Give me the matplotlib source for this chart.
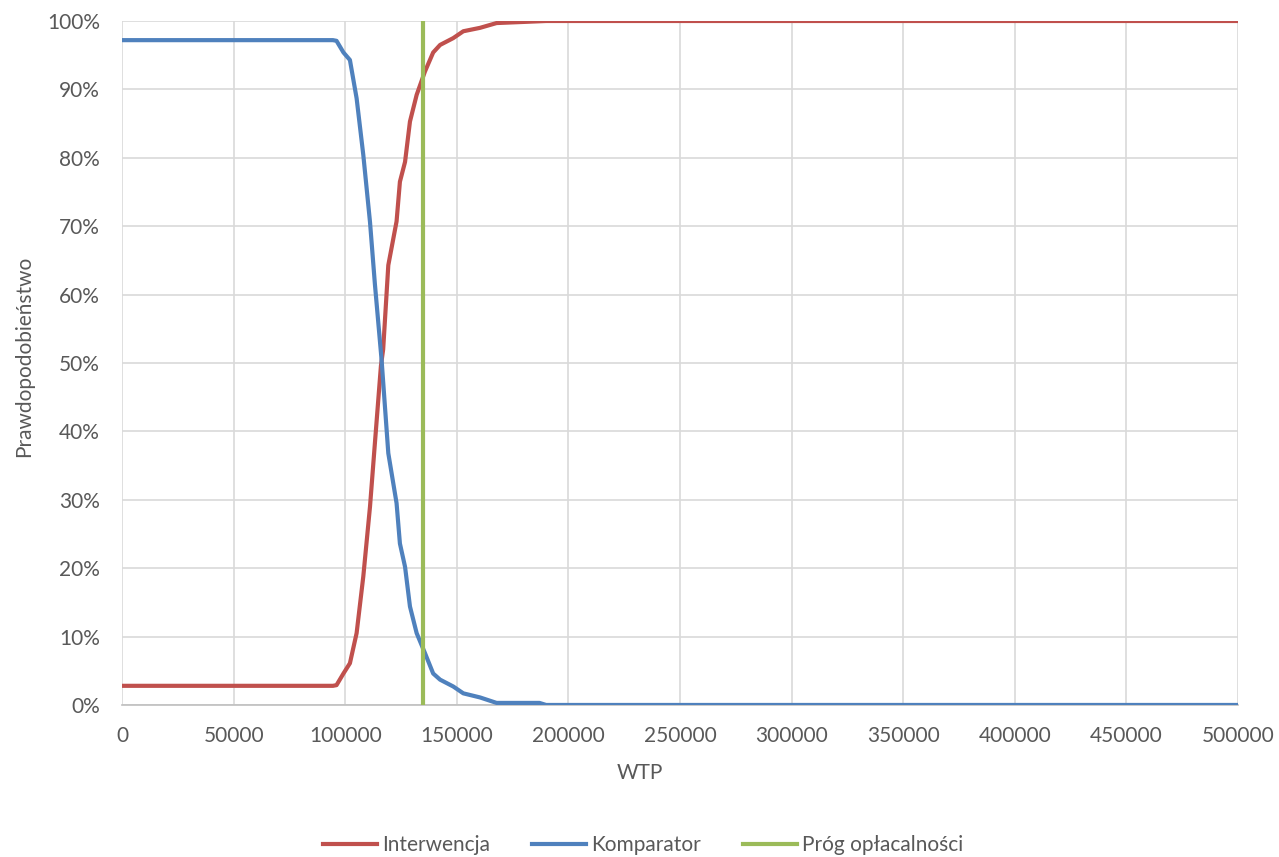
import matplotlib
matplotlib.use("Agg")
import matplotlib.pyplot as plt
import matplotlib.ticker as mticker

plt.rcParams.update({
    "font.family": ["Lato", "DejaVu Sans"],
    "font.size": 15,
})

# WTP values (PLN) and probability (%)
wtp_int = [0, 94500, 96100, 99200, 102100, 105100, 108100, 111100, 113300, 116000,
           117000, 119300, 123000, 124500, 126800, 129000, 132000, 135700, 139400,
           142500, 148400, 152900, 160400, 167800, 190000, 500000]
p_int = [2.8, 2.8, 2.9, 4.6, 6.1, 10.5, 18.8, 29.0, 38.3, 49.6,
         52.0, 64.3, 70.7, 76.5, 79.4, 85.3, 89.2, 92.6, 95.4,
         96.5, 97.5, 98.5, 99.0, 99.7, 100.0, 100.0]

wtp_comp = [0, 94500, 96100, 99200, 102100, 105100, 108100, 111100, 113300, 116300,
            119300, 123000, 124500, 126800, 129000, 132000, 135700, 139400,
            142500, 148400, 152900, 160400, 167800, 187000, 190000, 500000]
p_comp = [97.2, 97.2, 97.1, 95.4, 94.3, 88.7, 80.4, 70.6, 61.5, 50.4,
          36.8, 29.5, 23.6, 20.2, 14.4, 10.5, 7.6, 4.6,
          3.7, 2.7, 1.7, 1.1, 0.3, 0.3, 0.0, 0.0]

threshold = 134754

RED = "#C0504D"
BLUE = "#4F81BD"
GREEN = "#9BBB59"
TXT = "#595959"

fig = plt.figure(figsize=(12.79, 8.57), dpi=100)
ax = fig.add_axes([0.0954, 0.1774, 0.8726, 0.7981])

ax.plot(wtp_int, [v / 100 for v in p_int], color=RED, lw=3, label="Interwencja",
        solid_joinstyle="round", zorder=3)
ax.plot(wtp_comp, [v / 100 for v in p_comp], color=BLUE, lw=3, label="Komparator",
        solid_joinstyle="round", zorder=3)
ax.axvline(threshold, color=GREEN, lw=3, label="Próg opłacalności", zorder=4)

ax.set_xlim(0, 500000)
ax.set_ylim(0, 1)
ax.set_xticks(range(0, 500001, 50000))
ax.set_yticks([i / 10 for i in range(11)])
ax.yaxis.set_major_formatter(mticker.PercentFormatter(1.0, decimals=0))
ax.grid(True, color="#D9D9D9", lw=1.2)
ax.set_axisbelow(True)
for s in ["top", "right", "left"]:
    ax.spines[s].set_visible(False)
ax.spines["bottom"].set_color("#BFBFBF")
ax.spines["bottom"].set_linewidth(1.2)
ax.tick_params(axis="x", length=0, colors=TXT, labelsize=15, pad=15)
ax.tick_params(axis="y", length=0, colors=TXT, labelsize=15, pad=16)

ax.set_xlabel("WTP", color=TXT, fontsize=15)
ax.set_ylabel("Prawdopodobieństwo", color=TXT, fontsize=15)
# place axis titles where the reference has them (pixel coords -> axes fraction)
ax.xaxis.set_label_coords((640 - 122) / 1116, -(773 - 705) / 684)
ax.yaxis.set_label_coords(-(122 - 24) / 1116, 0.51)
ax.xaxis.label.set_va("center")
ax.yaxis.label.set_va("center")

leg = ax.legend(loc="center", bbox_to_anchor=((643 - 122) / 1116, -(845 - 705) / 684),
                ncol=3, frameon=False, fontsize=15, handlelength=2.6,
                columnspacing=2.0, handletextpad=0.25)
for t in leg.get_texts():
    t.set_color(TXT)

fig.savefig("out.png", dpi=100)
